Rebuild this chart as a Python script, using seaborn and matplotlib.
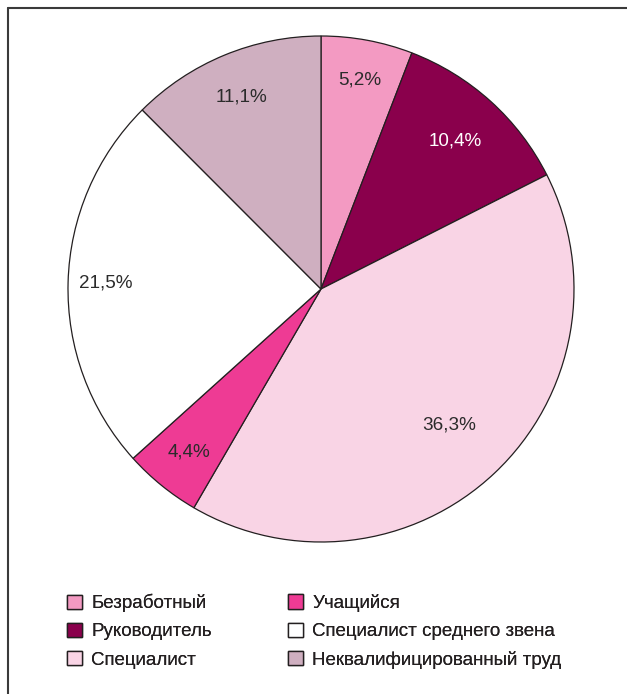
import matplotlib
matplotlib.use("Agg")
import matplotlib.pyplot as plt
from matplotlib.lines import Line2D
from matplotlib.patches import Patch
import numpy as np
import seaborn as sns

# Occupation shares (percent)
categories = [
    "Безработный",
    "Руководитель",
    "Специалист",
    "Учащийся",
    "Специалист среднего звена",
    "Неквалифицированный труд",
]
shares = [5.2, 10.4, 36.3, 4.4, 21.5, 11.1]
value_labels = ["5,2%", "10,4%", "36,3%", "4,4%", "21,5%", "11,1%"]

colors = ["#f39ac2", "#8a004c", "#f9d4e5", "#ee3b94", "#ffffff", "#cfafc0"]
label_colors = ["#2b2b2b", "#ffffff", "#2b2b2b", "#2b2b2b", "#2b2b2b", "#2b2b2b"]
label_radius = [0.84, 0.79, 0.74, 0.83, 0.85, 0.82]

sns.set_theme(style="white")
plt.rcParams["font.family"] = ["Liberation Sans", "DejaVu Sans"]

W, H = 627, 694
fig = plt.figure(figsize=(W / 100, H / 100), dpi=100)
fig.patch.set_facecolor("white")

cx, cy, r = 321, 289, 253
ax = fig.add_axes([(cx - r) / W, (H - cy - r) / H, 2 * r / W, 2 * r / H])

wedges, _ = ax.pie(
    shares,
    colors=colors,
    startangle=90,
    counterclock=False,
    wedgeprops=dict(edgecolor="#231f20", linewidth=0.9),
)
for w in wedges:
    w.set_clip_on(False)
ax.set_xlim(-1, 1)
ax.set_ylim(-1, 1)
ax.set_aspect("equal")
ax.axis("off")

for w, txt, col, rad in zip(wedges, value_labels, label_colors, label_radius):
    ang = np.deg2rad((w.theta1 + w.theta2) / 2)
    ax.text(rad * np.cos(ang), rad * np.sin(ang), txt, ha="center", va="center",
            fontsize=13.6, color=col)

# Frame lines along the top and left edges
fig.add_artist(Line2D([7.7 / W, 1.0], [1 - 7.7 / H, 1 - 7.7 / H],
                      transform=fig.transFigure, color="#3a3a3a", linewidth=1.5))
fig.add_artist(Line2D([7.7 / W, 7.7 / W], [0, 1 - 7.7 / H],
                      transform=fig.transFigure, color="#3a3a3a", linewidth=1.5))

# Two legend columns, three entries each
handles = [Patch(facecolor=c, edgecolor="#231f20", linewidth=1.0) for c in colors]
legend_kw = dict(
    loc="upper left",
    frameon=False,
    fontsize=13.5,
    handlelength=0.8,
    handleheight=0.8,
    handletextpad=0.48,
    labelspacing=0.56,
    borderaxespad=0,
    borderpad=0,
    labelcolor="#231f20",
)
for col, x0 in enumerate([67.3, 288.3]):
    leg = fig.legend(handles[3 * col:3 * col + 3], categories[3 * col:3 * col + 3],
                     bbox_to_anchor=(x0 / W, 1 - 594.0 / H), **legend_kw)
    fig.add_artist(leg)

fig.savefig("out.png", dpi=100, facecolor="white")
